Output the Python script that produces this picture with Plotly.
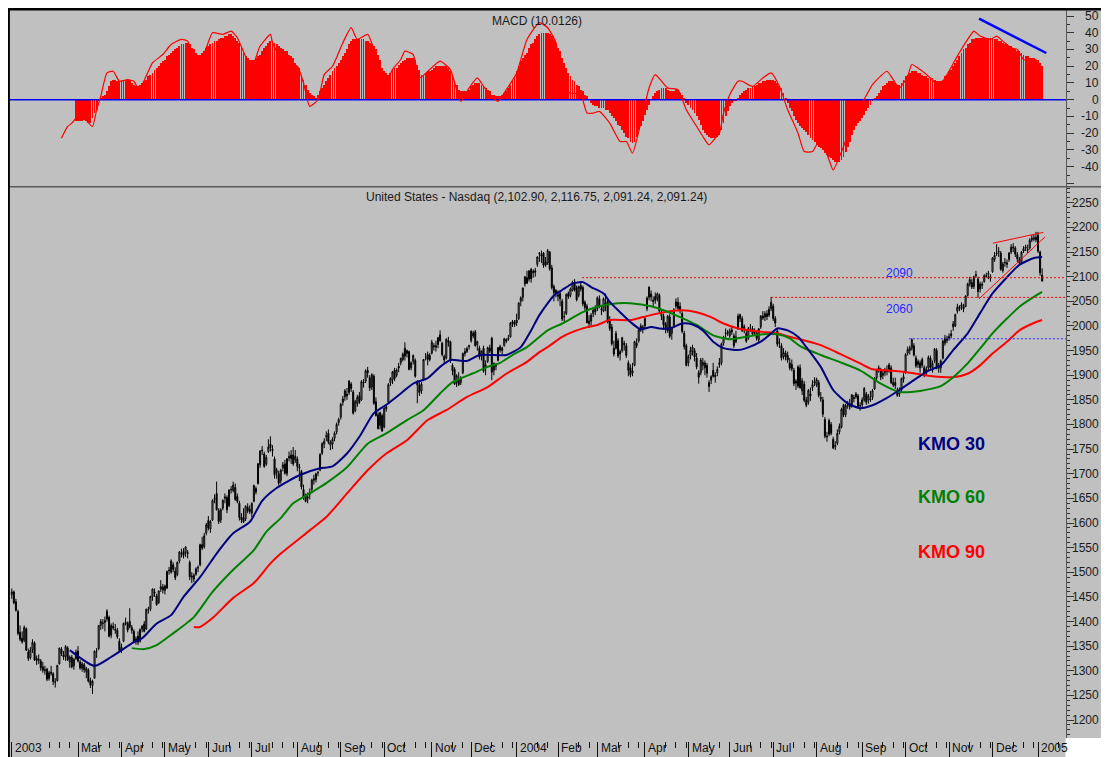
import plotly.graph_objects as go

# ============================ DATA ============================
month_labels = ["2003", "Mar", "Apr", "May", "Jun", "Jul", "Aug", "Sep", "Oct", "Nov", "Dec",
                "2004", "Feb", "Mar", "Apr", "May", "Jun", "Jul", "Aug", "Sep", "Oct", "Nov", "Dec", "2005"]
month_start_day = [0, 32, 53, 74, 95, 116, 138, 159, 180, 203, 222,
                   244, 264, 283, 306, 327, 347, 368, 389, 411, 432, 453, 474, 496]

opens = [
    1455,1460,1440,1420,1378,1366,1362,1385,1338,1327,1343,1356,1325,
    1321,1320,1308,1300,1303,1284,1297,1294,1277,1280,1314,1344,1333,1329,1346,1318,1327,1310,1325,
    1340,1318,1305,1312,1298,1302,1280,1270,1285,1340,1345,1392,1396,1398,1405,1408,1372,1390,1382,1382,1360,
    1342,1360,1398,1396,1400,1388,1380,1360,1370,1360,1385,1395,1385,1424,1425,1450,1460,1452,1438,1466,1470,
    1463,1468,1503,1500,1515,1502,1495,1523,1538,1542,1540,1540,1520,1492,1486,1496,1508,1515,1556,1552,1580,
    1605,1588,1606,1648,1660,1625,1606,1630,1650,1652,1635,1668,1666,1672,1654,1640,1612,1610,1608,1632,1628,
    1620,1644,1670,1680,1718,1748,1740,1720,1745,1760,1750,1730,1702,1700,1686,1712,1720,1700,1732,1738,1738,1728,
    1730,1712,1705,1668,1655,1650,1658,1668,1690,1688,1702,1708,1742,1760,1775,1782,1758,1760,1772,1785,1804,
    1815,1845,1856,1862,1865,1882,1866,1828,1842,1858,1850,1886,1888,1910,1895,1876,1898,1846,1820,1798,1818,
    1795,1832,1845,1885,1890,1910,1900,1918,1925,1932,1955,1944,1948,1915,1928,1930,1880,1880,1868,1890,1936,1942,1940,
    1945,1960,1960,1962,1982,1965,1938,1935,1970,1968,1920,1912,1885,1890,1885,1905,1948,1948,1958,
    1970,1985,1988,1962,1955,1940,1955,1915,1928,1955,1975,1910,1918,1930,1958,1950,1960,1972,1975,1978,2005,2008,
    2012,2015,2050,2058,2085,2098,2095,2115,2108,2112,2125,2148,2145,2148,2130,2128,2150,2118,2080,2072,
    2060,2055,2050,2018,2025,2066,2062,2072,2088,2078,2062,2082,2078,2048,2040,2010,2010,2025,2034,
    2035,2055,2035,2030,2040,2050,2012,1998,1955,1955,1970,1948,1950,1965,1960,1925,1915,1905,1920,1965,1970,1995,1998,
    2000,2035,2058,2065,2052,2060,2055,2062,2020,2020,2005,1990,2018,1985,2000,2040,2048,2040,2025,1985,1960,
    1925,1940,1948,1950,1935,1905,1905,1920,1915,1920,1885,1890,1910,1900,1905,1925,1925,1965,1985,1985,
    1980,1992,1980,1968,1995,2015,2015,1995,1985,1975,1998,1995,1988,1985,1972,1998,2020,2018,2025,2022,2035,
    2040,2015,1990,1965,1960,1938,1945,1940,1925,1922,1910,1888,1878,1915,1868,1882,1850,1845,1862,1875,1884,
    1880,1885,1852,1850,1810,1776,1780,1800,1770,1755,1762,1785,1795,1840,1820,1840,1842,1838,1855,1856,1858,1838,
    1840,1850,1862,1850,1852,1855,1872,1895,1912,1910,1900,1905,1910,1912,1915,1880,1885,1870,1862,1870,1892,
    1905,1945,1950,1955,1960,1935,1922,1915,1932,1915,1905,1915,1935,1915,1930,1950,1918,1915,1935,1965,1970,
    1975,1980,1998,2000,2030,2035,2040,2040,2040,2062,2085,2088,2080,2102,2095,2075,2082,2090,2102,2105,2100,
    2110,2135,2148,2150,2148,2112,2128,2125,2135,2150,2158,2158,2145,2135,2130,2152,2158,2155,2158,2175,2176,2180,
    2184,2150,2103,
]
highs = [
    1467,1463,1446,1424,1392,1380,1392,1388,1345,1348,1364,1360,1331,
    1333,1324,1318,1310,1306,1300,1310,1297,1285,1312,1347,1348,1340,1352,1350,1331,1332,1326,1343,
    1350,1322,1318,1316,1308,1305,1286,1282,1341,1346,1392,1405,1405,1410,1425,1412,1396,1398,1395,1387,1366,
    1355,1398,1408,1400,1427,1393,1384,1370,1380,1386,1392,1401,1426,1430,1452,1467,1467,1456,1463,1484,1476,
    1475,1503,1511,1526,1520,1510,1522,1543,1548,1549,1553,1545,1524,1500,1498,1510,1514,1558,1572,1580,1600,
    1614,1606,1648,1658,1684,1630,1630,1648,1660,1656,1668,1675,1684,1680,1660,1645,1620,1630,1636,1640,1636,
    1642,1678,1674,1722,1748,1756,1745,1738,1770,1776,1758,1735,1712,1706,1710,1724,1728,1732,1745,1748,1754,1748,
    1735,1720,1708,1678,1660,1662,1670,1690,1698,1702,1706,1742,1764,1772,1786,1790,1768,1774,1786,1804,1814,
    1844,1858,1872,1874,1890,1886,1870,1850,1860,1866,1890,1892,1912,1917,1900,1904,1902,1855,1825,1826,1822,
    1835,1840,1884,1896,1908,1915,1914,1925,1936,1946,1967,1952,1950,1928,1942,1934,1890,1886,1886,1933,1945,1948,1945,
    1972,1965,1970,1978,1991,1968,1942,1975,1978,1970,1924,1916,1902,1906,1898,1946,1955,1958,1962,
    1991,1990,1992,1970,1960,1950,1960,1930,1958,1962,1978,1926,1925,1957,1962,1958,1976,1975,1982,2008,2012,2012,
    2025,2048,2060,2078,2101,2112,2113,2118,2115,2118,2141,2150,2153,2150,2140,2156,2152,2124,2084,2075,
    2072,2070,2055,2030,2066,2070,2078,2092,2095,2082,2082,2090,2082,2052,2045,2022,2026,2038,2042,
    2060,2062,2042,2058,2066,2055,2020,2004,1970,1990,1975,1952,1978,1970,1965,1930,1922,1925,1970,1975,1994,2005,2002,
    2018,2060,2080,2072,2060,2068,2068,2066,2032,2025,2008,2022,2024,1998,2036,2056,2058,2048,2030,1990,1964,
    1942,1958,1962,1955,1945,1910,1935,1935,1930,1925,1890,1900,1925,1906,1918,1935,1966,1980,1995,1992,
    1995,1998,1985,1990,2025,2025,2020,2003,1992,1998,2004,2000,1995,1990,1996,2022,2030,2030,2032,2040,2059,
    2045,2020,1995,1975,1965,1955,1950,1948,1935,1932,1915,1892,1920,1922,1894,1888,1856,1872,1875,1890,1896,
    1895,1890,1866,1856,1815,1785,1812,1805,1775,1766,1790,1802,1834,1842,1842,1848,1852,1862,1860,1866,1862,1845,
    1855,1876,1866,1862,1868,1872,1896,1912,1920,1915,1910,1915,1920,1925,1920,1895,1895,1875,1875,1895,1904,
    1945,1958,1960,1975,1965,1940,1932,1930,1936,1920,1918,1940,1940,1930,1955,1955,1925,1932,1972,1982,1980,
    1985,1992,2010,2025,2045,2042,2048,2045,2062,2088,2100,2095,2102,2112,2100,2090,2090,2105,2108,2112,2105,
    2140,2150,2166,2160,2152,2130,2138,2135,2150,2166,2168,2162,2150,2140,2152,2162,2165,2165,2178,2185,2185,2191,
    2191,2153,2117,
]
lows = [
    1446,1435,1420,1372,1360,1355,1358,1340,1320,1323,1336,1320,1312,
    1314,1300,1296,1292,1279,1280,1290,1271,1266,1278,1313,1330,1322,1320,1320,1306,1305,1302,1322,
    1317,1302,1298,1296,1285,1276,1265,1253,1284,1326,1342,1383,1385,1380,1400,1368,1366,1383,1375,1365,1338,
    1336,1358,1392,1378,1386,1375,1356,1353,1352,1357,1378,1378,1383,1416,1421,1442,1450,1432,1436,1460,1457,
    1455,1466,1495,1497,1500,1484,1492,1518,1530,1528,1531,1528,1484,1478,1480,1493,1500,1512,1545,1548,1575,
    1585,1580,1604,1640,1625,1598,1600,1626,1640,1620,1632,1660,1662,1645,1640,1605,1600,1600,1604,1620,1618,
    1612,1642,1658,1678,1712,1738,1712,1716,1742,1745,1735,1690,1690,1676,1680,1705,1698,1695,1725,1720,1716,1722,
    1705,1685,1668,1647,1642,1640,1648,1662,1678,1682,1695,1705,1738,1752,1766,1760,1748,1750,1766,1780,1798,
    1810,1838,1848,1850,1860,1866,1820,1825,1836,1842,1848,1875,1884,1895,1868,1870,1840,1816,1790,1790,1785,
    1792,1826,1842,1878,1882,1888,1896,1906,1920,1928,1930,1936,1910,1910,1922,1895,1843,1858,1862,1888,1930,1920,1928,
    1942,1950,1948,1955,1968,1938,1925,1932,1958,1925,1900,1880,1876,1878,1880,1902,1938,1945,1952,
    1966,1975,1958,1950,1932,1930,1905,1900,1925,1945,1890,1900,1910,1928,1946,1942,1958,1965,1970,1976,1998,1998,
    2000,2012,2040,2050,2080,2085,2090,2088,2098,2100,2120,2130,2128,2118,2120,2124,2112,2074,2050,2058,
    2050,2040,2010,2008,2022,2055,2058,2070,2070,2050,2058,2070,2040,2030,2005,1996,2000,2018,2022,
    2030,2036,2022,2028,2030,2005,1990,1960,1938,1952,1935,1930,1946,1950,1935,1898,1896,1898,1918,1955,1966,1988,1985,
    1995,2030,2052,2050,2040,2045,2050,2025,2012,1992,1985,1986,1975,1972,1996,2035,2030,2025,1985,1952,1918,
    1918,1932,1940,1928,1912,1883,1900,1910,1900,1895,1866,1882,1895,1885,1898,1915,1920,1960,1975,1980,
    1975,1982,1955,1965,1992,2008,1988,1985,1966,1972,1988,1980,1980,1970,1966,1994,2012,2010,2012,2018,2030,
    2010,1998,1958,1955,1930,1932,1930,1925,1910,1908,1878,1870,1874,1872,1860,1845,1835,1840,1848,1868,1878,
    1876,1855,1846,1815,1772,1765,1776,1778,1750,1748,1758,1780,1792,1815,1815,1832,1830,1834,1845,1852,1834,1828,
    1835,1846,1840,1842,1846,1850,1870,1890,1905,1890,1892,1898,1900,1905,1882,1876,1872,1856,1856,1866,1885,
    1903,1940,1942,1950,1938,1915,1915,1905,1915,1896,1900,1910,1912,1905,1925,1912,1905,1905,1932,1960,1965,
    1970,1975,1990,1998,2025,2030,2032,2028,2038,2060,2080,2075,2075,2098,2057,2068,2075,2088,2098,2095,2090,
    2108,2130,2142,2140,2112,2108,2120,2118,2130,2146,2150,2140,2130,2122,2126,2148,2152,2148,2155,2170,2172,2170,
    2148,2102,2091,
]
closes = [
    1460,1438,1423,1376,1364,1359,1388,1342,1325,1342,1358,1322,1321,
    1323,1306,1301,1302,1283,1296,1295,1278,1277,1311,1346,1334,1328,1349,1322,1328,1308,1323,1338,
    1320,1306,1314,1302,1305,1279,1271,1279,1340,1340,1392,1400,1397,1402,1421,1370,1392,1387,1384,1369,1341,
    1348,1396,1396,1383,1389,1382,1358,1365,1358,1384,1391,1380,1425,1424,1451,1466,1458,1434,1462,1471,1464,
    1472,1502,1504,1523,1506,1489,1520,1541,1539,1534,1551,1538,1491,1490,1494,1507,1510,1556,1549,1574,1596,
    1590,1603,1646,1650,1627,1603,1627,1646,1653,1627,1667,1668,1677,1648,1644,1611,1606,1602,1634,1625,1623,
    1640,1676,1663,1720,1746,1747,1715,1733,1754,1753,1747,1698,1708,1681,1707,1718,1701,1730,1735,1731,1720,1735,
    1715,1714,1673,1652,1644,1653,1662,1687,1687,1700,1702,1739,1761,1766,1777,1765,1764,1770,1782,1800,1810,
    1841,1852,1868,1858,1888,1873,1823,1847,1855,1845,1887,1884,1909,1905,1874,1901,1843,1818,1792,1824,1787,
    1833,1836,1881,1893,1907,1893,1911,1915,1934,1943,1939,1950,1912,1925,1940,1898,1885,1865,1882,1932,1936,1932,1932,
    1967,1958,1957,1976,1970,1942,1931,1973,1967,1930,1909,1882,1899,1881,1893,1944,1944,1954,1960,
    1989,1980,1960,1968,1937,1949,1908,1921,1956,1949,1906,1924,1921,1956,1951,1955,1974,1969,1973,2006,2009,2003,
    2006,2047,2057,2077,2100,2087,2112,2096,2111,2109,2140,2147,2142,2123,2124,2153,2116,2078,2068,2066,
    2063,2066,2014,2019,2064,2060,2075,2089,2073,2053,2080,2075,2045,2037,2007,2005,2022,2032,2029,
    2057,2039,2033,2055,2047,2008,1995,1964,1943,1985,1939,1943,1976,1962,1940,1910,1901,1909,1968,1960,1992,2000,1994,
    2015,2057,2079,2059,2050,2052,2065,2030,2024,2002,1995,2020,1979,1996,2033,2049,2036,2032,1989,1958,1920,
    1938,1950,1957,1937,1917,1896,1931,1926,1925,1904,1877,1897,1898,1897,1912,1922,1964,1976,1984,1987,
    1990,1988,1960,1978,2020,2023,1990,1999,1969,1995,1998,1983,1986,1975,1994,2020,2016,2025,2019,2034,2048,
    2015,2006,1963,1966,1935,1946,1937,1931,1915,1913,1883,1884,1917,1875,1889,1849,1839,1869,1858,1881,1887,
    1891,1859,1855,1821,1776,1775,1808,1782,1752,1757,1782,1796,1831,1819,1838,1839,1836,1860,1853,1862,1836,1838,
    1850,1873,1845,1858,1850,1869,1894,1910,1915,1896,1904,1910,1908,1921,1885,1886,1879,1859,1869,1893,1897,
    1942,1952,1955,1972,1941,1919,1928,1925,1920,1903,1912,1936,1916,1924,1953,1915,1914,1929,1969,1975,1975,
    1979,1984,2004,2023,2038,2039,2043,2035,2061,2085,2094,2079,2100,2104,2070,2085,2085,2102,2101,2106,2097,
    2138,2143,2147,2151,2115,2126,2129,2128,2148,2160,2160,2146,2136,2128,2150,2157,2160,2154,2174,2178,2179,2175,
    2152,2108,2091,
]

kmo30_day = [28,40,48,59,63,70,77,83,91,99,107,115,121,128,139,149,155,162,168,175,
             181,188,194,201,207,212,220,226,233,239,246,251,255,262,266,271,276,280,286,289,
             294,299,304,309,313,318,324,329,334,339,344,351,355,362,367,370,375,380,384,391,
             397,404,410,416,423,429,436,442,449,455,462,468,474,481,487,494,498]
kmo30 = [1342,1310,1328,1358,1366,1396,1413,1450,1490,1538,1579,1602,1645,1671,1697,1711,1715,1741,1775,1823,
         1840,1863,1883,1894,1917,1931,1929,1941,1941,1941,1957,1991,2022,2062,2073,2086,2089,2079,2066,2049,
         2028,2008,1993,1998,1995,1995,2005,2003,1991,1968,1955,1951,1955,1968,1985,1995,1991,1978,1957,1917,
         1870,1843,1833,1839,1854,1870,1890,1907,1920,1951,1985,2026,2066,2099,2124,2138,2140]

kmo60_day = [58,64,70,78,88,97,107,117,123,130,136,144,152,162,172,181,191,199,207,213,
             223,230,236,242,249,259,266,276,283,293,299,309,315,323,331,339,347,355,363,370,
             376,381,391,400,410,420,429,439,449,455,462,468,474,481,487,494,498]
kmo60 = [1346,1344,1352,1376,1409,1460,1505,1545,1582,1610,1640,1660,1681,1713,1761,1782,1809,1829,1863,1886,
         1904,1917,1925,1941,1957,1991,2005,2028,2039,2046,2046,2040,2032,2018,2002,1981,1973,1978,1983,1983,
         1975,1959,1941,1927,1910,1883,1866,1868,1878,1896,1924,1954,1985,2015,2039,2059,2069]

kmo90_day = [88,91,97,107,117,125,130,144,152,162,172,181,191,201,210,220,230,239,249,255,
             259,266,276,283,289,299,305,312,318,324,331,338,344,351,357,363,370,376,381,391,
             400,410,416,426,436,445,455,462,468,474,481,487,494,498]
kmo90 = [1389,1389,1407,1448,1478,1518,1538,1585,1612,1660,1707,1741,1768,1809,1829,1856,1876,1903,1927,1947,
         1957,1978,1995,2002,2012,2012,2018,2025,2030,2032,2028,2018,2005,1995,1991,1988,1985,1978,1973,1961,
         1944,1924,1912,1909,1904,1898,1896,1903,1920,1944,1968,1991,2006,2012]

macd_line_day = [24,27,29,32,35,39,41,43,46,49,52,56,59,61,63,68,73,77,82,85,
                 87,90,94,97,102,106,109,114,116,120,125,126,131,138,141,144,148,151,155,160,
                 164,167,172,177,180,184,188,190,194,197,202,207,212,217,221,225,228,231,235,239,
                 244,249,255,259,263,266,270,275,278,281,284,289,294,297,300,304,308,311,317,322,
                 326,331,334,337,340,342,344,347,351,353,358,363,367,371,375,380,383,387,390,392,
                 395,397,402,407,411,416,423,426,429,433,435,439,444,448,452,457,462,465,468,473,
                 476,479,483,486,489,492,495,496,498]
macd_line = [-23,-16,-14,-10,-11,-16,-6,2,16,17,11,12,11,7,9,22,27,33,36,35,
             28,20,31,40,39,41,37,23,19,32,39,34,23,20,10,-4,0,15,20,34,
             43,36,39,22,8,18,24,29,27,13,18,23,18,-1,7,13,8,3,-1,6,
             16,36,46,43,34,6,4,3,-8,-8,-7,-14,-25,-25,-32,-14,7,15,7,6,
             -6,-16,-22,-27,-23,-20,-8,3,11,11,8,13,16,8,-6,-20,-31,-31,-25,-26,
             -36,-42,-28,-10,-2,9,17,12,7,14,21,18,13,8,15,26,36,41,38,36,
             38,35,31,30,24,23,24,21,12]

macd_hist_first_day = 31
macd_hist = [
    -13,-13,-13,-13,-12,-13,-14,-14,-11,-8, -6,-1,1,2,3,5,8,11,12,12,
    11,11,12,12,12,12,12,10,9,8, 8,9,10,11,12,14,15,16,18,19,
    20,22,23,24,26,27,28,29,30,31, 32,33,33,34,34,33,31,30,28,27,
    27,28,29,31,32,33,34,35,35,36, 37,37,38,38,39,39,38,37,35,34,
    31,28,26,25,24,24,24,25,26,27, 29,31,32,34,35,35,34,33,32,31,
    30,29,29,27,26,25,22,20,19,15, 12,9,6,4,3,2,1,3,5,7,
    9,11,13,15,17,19,20,22,24,26, 28,30,33,35,36,36,36,36,36,36,
    35,35,34,33,32,30,27,24,19,17, 16,15,16,18,19,19,21,22,23,24,
    25,25,25,25,24,21,18,15,15,16, 17,17,18,19,20,20,20,20,20,20,
    19,17,14,11,9,6,5,5,5,5, 6,8,9,10,10,10,9,8,7,6,
    5,3,3,2,2,2,3,4,5,7, 9,11,14,17,20,23,25,27,28,31,
    33,34,36,38,39,40,40,40,40,39, 38,36,34,31,29,25,22,19,16,14,
    12,11,9,8,6,5,3,2,0,-2, -3,-4,-4,-5,-5,-5,-6,-6,-8,-10,
    -11,-13,-15,-16,-18,-20,-22,-23,-25,-26, -25,-22,-18,-16,-13,-9,-6,-3,0,2,
    4,5,6,7,7,7,6,5,5,5, 6,6,4,3,1,-2,-3,-5,-6,-8,
    -10,-12,-15,-18,-20,-21,-22,-23,-23,-23, -22,-21,-18,-14,-10,-7,-4,-2,-1,-1,
    1,3,4,5,6,7,7,8,8,9, 10,10,11,11,12,12,12,12,11,10,
    8,7,4,1,-2,-5,-7,-10,-12,-14, -16,-17,-18,-19,-21,-23,-24,-25,-27,-28,
    -29,-30,-32,-33,-34,-35,-36,-37,-37,-37, -36,-34,-31,-28,-25,-21,-18,-16,-14,-13,
    -11,-9,-7,-5,-3,-1,1,2,4,6, 8,9,10,11,11,11,10,9,9,10,
    12,14,15,16,17,17,17,16,16,15, 14,14,13,13,13,12,11,11,11,12,
    14,15,17,18,20,22,24,26,28,30, 31,33,34,36,36,37,37,37,37,37,
    36,37,37,37,36,36,35,35,34,33, 33,32,32,31,30,29,29,28,27,26,
    26,25,25,25,24,24,22,20,
]

macd_trend_day = [467.5, 500.0]
macd_trend = [48.4, 27.9]
wedge_top_day = [474.2, 498.6]
wedge_top = [2168, 2190]
wedge_bot_day = [467.5, 499.4]
wedge_bot = [2055, 2181]

level_values = [2098, 2058, 1974]
level_start_day = [275.6, 367.0, 433.6]
level_colors = ["#ff0000", "#ff0000", "#3030ff"]
level_texts = ["2090", "2060"]
level_text_price = [2108, 2034]
level_text_day = 429

kmo_texts = ["KMO 30", "KMO 60", "KMO 90"]
kmo_text_price = [1760, 1653, 1541]
kmo_colors = ["#000080", "#008000", "#ff0000"]

macd_tick_values = [50, 40, 30, 20, 10, 0, -10, -20, -30, -40]
price_tick_values = [1200, 1250, 1300, 1350, 1400, 1450, 1500, 1550, 1600, 1650, 1700, 1750,
                     1800, 1850, 1900, 1950, 2000, 2050, 2100, 2150, 2200, 2250]

macd_title = "MACD (10.0126)"
price_title = "United States - Nasdaq (2,102.90, 2,116.75, 2,091.24, 2,091.24)"

for name, arr in (("opens", opens), ("highs", highs), ("lows", lows)):
    assert len(arr) == len(closes), (name, len(arr), len(closes))
assert len(kmo30_day) == len(kmo30) and len(kmo60_day) == len(kmo60) and len(kmo90_day) == len(kmo90)
assert len(macd_line_day) == len(macd_line)
days = list(range(len(closes)))
hist_days = list(range(macd_hist_first_day, macd_hist_first_day + len(macd_hist)))

# ============================ LAYOUT GEOMETRY ============================
BG = "#c0c0c0"
FONT = "Liberation Sans, Arial, sans-serif"
OFF = 8                       # browser body margin
W, H = 1109 - OFF, 770 - OFF  # figure size (bottom overflow clipped by window, like reference)
PL, PR, PT, PB = 9, 1066, 9, 741      # plot area in screen px
X0, DX = 11.8, 2.069                   # screen x of day 0, px per trading day
P_REF_Y, P_REF, P_PPU = 276.7, 2100.0, 0.4926   # price calibration
M_ZERO_Y, M_PPU = 99.7, 1.674                   # MACD calibration
SPLIT_Y = 186.7
LABEL_RIGHT = 1101.0                   # right edge of the right-hand axis labels


def px(sx):
    return (sx - PL) / (PR - PL)


def py(sy):
    return (PB - sy) / (PB - PT)


def price_at(sy):
    return P_REF - (sy - P_REF_Y) / P_PPU


def macd_at(sy):
    return (M_ZERO_Y - sy) / M_PPU


xrange_ = [(PL - X0) / DX, (PR - X0) / DX]
split = py(SPLIT_Y)

fig = go.Figure()

# ---------- price panel ----------
fig.add_trace(go.Candlestick(
    x=days, open=opens, high=highs, low=lows, close=closes,
    increasing=dict(line=dict(color="#000000", width=1), fillcolor=BG),
    decreasing=dict(line=dict(color="#000000", width=1), fillcolor="#000000"),
    whiskerwidth=0, hoverinfo="skip", showlegend=False, xaxis="x", yaxis="y"))

for d, v, c in ((kmo90_day, kmo90, "#ff0000"), (kmo60_day, kmo60, "#008000"), (kmo30_day, kmo30, "#000080")):
    fig.add_trace(go.Scatter(x=d, y=v, mode="lines", line=dict(color=c, width=2, shape="spline", smoothing=0.6),
                             hoverinfo="skip", showlegend=False, xaxis="x", yaxis="y"))

for val, start, col in zip(level_values, level_start_day, level_colors):
    fig.add_trace(go.Scatter(x=[start, xrange_[1]], y=[val, val], mode="lines",
                             line=dict(color=col, width=1, dash="2px,2px"),
                             hoverinfo="skip", showlegend=False, xaxis="x", yaxis="y"))

for d, v in ((wedge_top_day, wedge_top), (wedge_bot_day, wedge_bot)):
    fig.add_trace(go.Scatter(x=d, y=v, mode="lines", line=dict(color="#ff0000", width=1),
                             hoverinfo="skip", showlegend=False, xaxis="x", yaxis="y"))

# ---------- MACD panel ----------
fig.add_trace(go.Bar(x=hist_days, y=macd_hist, width=0.42,
                     marker=dict(color="#ff0000", line=dict(width=0)),
                     hoverinfo="skip", showlegend=False, xaxis="x2", yaxis="y2"))
fig.add_trace(go.Scatter(x=[xrange_[0], xrange_[1]], y=[0, 0], mode="lines",
                         line=dict(color="#0000ff", width=1.5), hoverinfo="skip", showlegend=False,
                         xaxis="x2", yaxis="y2"))
fig.add_trace(go.Scatter(x=macd_line_day, y=macd_line, mode="lines",
                         line=dict(color="#ff0000", width=1.2, shape="spline", smoothing=0.5),
                         hoverinfo="skip", showlegend=False, xaxis="x2", yaxis="y2"))
fig.add_trace(go.Scatter(x=macd_trend_day, y=macd_trend, mode="lines",
                         line=dict(color="#0000ff", width=2.5), hoverinfo="skip", showlegend=False,
                         xaxis="x2", yaxis="y2"))

# ---------- axes ----------
minor_ticks = [18, 23, 28]
bounds = month_start_day[1:] + [int(xrange_[1])]
for s, e in zip(bounds[:-1], bounds[1:]):
    t = s + 10
    while t <= e - 1:
        minor_ticks.append(t)
        t += 5

yaxis_common = dict(side="right", ticks="outside", ticklen=7, tickwidth=1, tickcolor="#333333",
                    showline=True, linecolor="#555555", linewidth=1, showgrid=False, zeroline=False,
                    showticklabels=False, tickmode="linear", tick0=0)

fig.update_layout(
    width=W, height=H,
    margin=dict(l=PL - OFF, r=W - (PR - OFF), t=PT - OFF, b=H - (PB - OFF), pad=0),
    paper_bgcolor=BG, plot_bgcolor=BG, showlegend=False, bargap=0,
    font=dict(family=FONT, size=12, color="#1a1a1a"),
    xaxis=dict(domain=[0, 1], range=xrange_, anchor="y", showgrid=False, zeroline=False,
               showline=False, ticks="outside", tickmode="array", tickvals=month_start_day,
               ticklen=20, tickwidth=1, tickcolor="#111111", showticklabels=False,
               minor=dict(tickmode="array", tickvals=minor_ticks, ticks="outside", ticklen=6,
                          tickwidth=1, tickcolor="#111111", showgrid=False),
               rangeslider=dict(visible=False)),
    xaxis2=dict(domain=[0, 1], range=xrange_, anchor="y2", showgrid=False, zeroline=False,
                showline=False, ticks="", showticklabels=False),
    yaxis=dict(domain=[0, split], range=[price_at(PB), price_at(SPLIT_Y)], anchor="x", dtick=50,
               minor=dict(dtick=10, ticks="outside", ticklen=3, tickcolor="#333333", showgrid=False),
               **yaxis_common),
    yaxis2=dict(domain=[split, 1], range=[macd_at(SPLIT_Y), macd_at(PT)], anchor="x2", dtick=10,
                minor=dict(dtick=5, ticks="outside", ticklen=3, tickcolor="#333333", showgrid=False),
                **yaxis_common),
)

# ---------- frame shapes ----------
shapes = [
    dict(type="line", xref="paper", yref="paper", x0=0, x1=px(1112), y0=split, y1=split,
         line=dict(color="#5a5a5a", width=1.5), layer="above"),
    dict(type="line", xref="paper", yref="paper", x0=px(7), x1=px(1112), y0=py(9.3), y1=py(9.3),
         line=dict(color="#000000", width=2.5), layer="above"),
    dict(type="line", xref="paper", yref="paper", x0=px(8.8), x1=px(8.8), y0=py(7), y1=py(775),
         line=dict(color="#000000", width=2.2), layer="above"),
    dict(type="rect", xref="paper", yref="paper", x0=px(1065.5), x1=px(1115), y0=py(738), y1=py(780),
         fillcolor="#ffffff", line=dict(width=0), layer="above"),
]
fig.update_layout(shapes=shapes)

# ---------- text ----------
ann = []
ann.append(dict(text=macd_title, xref="paper", yref="paper", x=px(536.5), y=py(21),
                xanchor="center", yanchor="middle", showarrow=False, font=dict(size=12, color="#1a1a1a")))
ann.append(dict(text=price_title, xref="paper", yref="paper", x=px(536.5), y=py(197),
                xanchor="center", yanchor="middle", showarrow=False, font=dict(size=12, color="#1a1a1a")))
for t, p, c in zip(kmo_texts, kmo_text_price, kmo_colors):
    ann.append(dict(text="<b>" + t + "</b>", xref="x", yref="y", x=437, y=p, xanchor="left",
                    yanchor="middle", showarrow=False, font=dict(size=18, color=c)))
for t, p in zip(level_texts, level_text_price):
    ann.append(dict(text=t, xref="x", yref="y", x=level_text_day, y=p, xanchor="center",
                    yanchor="middle", showarrow=False, font=dict(size=12, color="#2828ff")))
for v in macd_tick_values:
    ann.append(dict(text=str(v), xref="paper", yref="y2", x=px(LABEL_RIGHT), y=v, xanchor="right",
                    yanchor="middle", showarrow=False, font=dict(size=12, color="#1a1a1a")))
for v in price_tick_values:
    ann.append(dict(text=str(v), xref="paper", yref="y", x=px(LABEL_RIGHT), y=v, xanchor="right",
                    yanchor="middle", showarrow=False, font=dict(size=12, color="#1a1a1a")))
for lab, d in zip(month_labels, month_start_day):
    ann.append(dict(text=lab, xref="x", yref="paper", x=d + 0.6, y=py(757), xanchor="left",
                    yanchor="bottom", showarrow=False, font=dict(size=12, color="#111111")))
fig.update_layout(annotations=ann)

fig.write_html("out.html")
